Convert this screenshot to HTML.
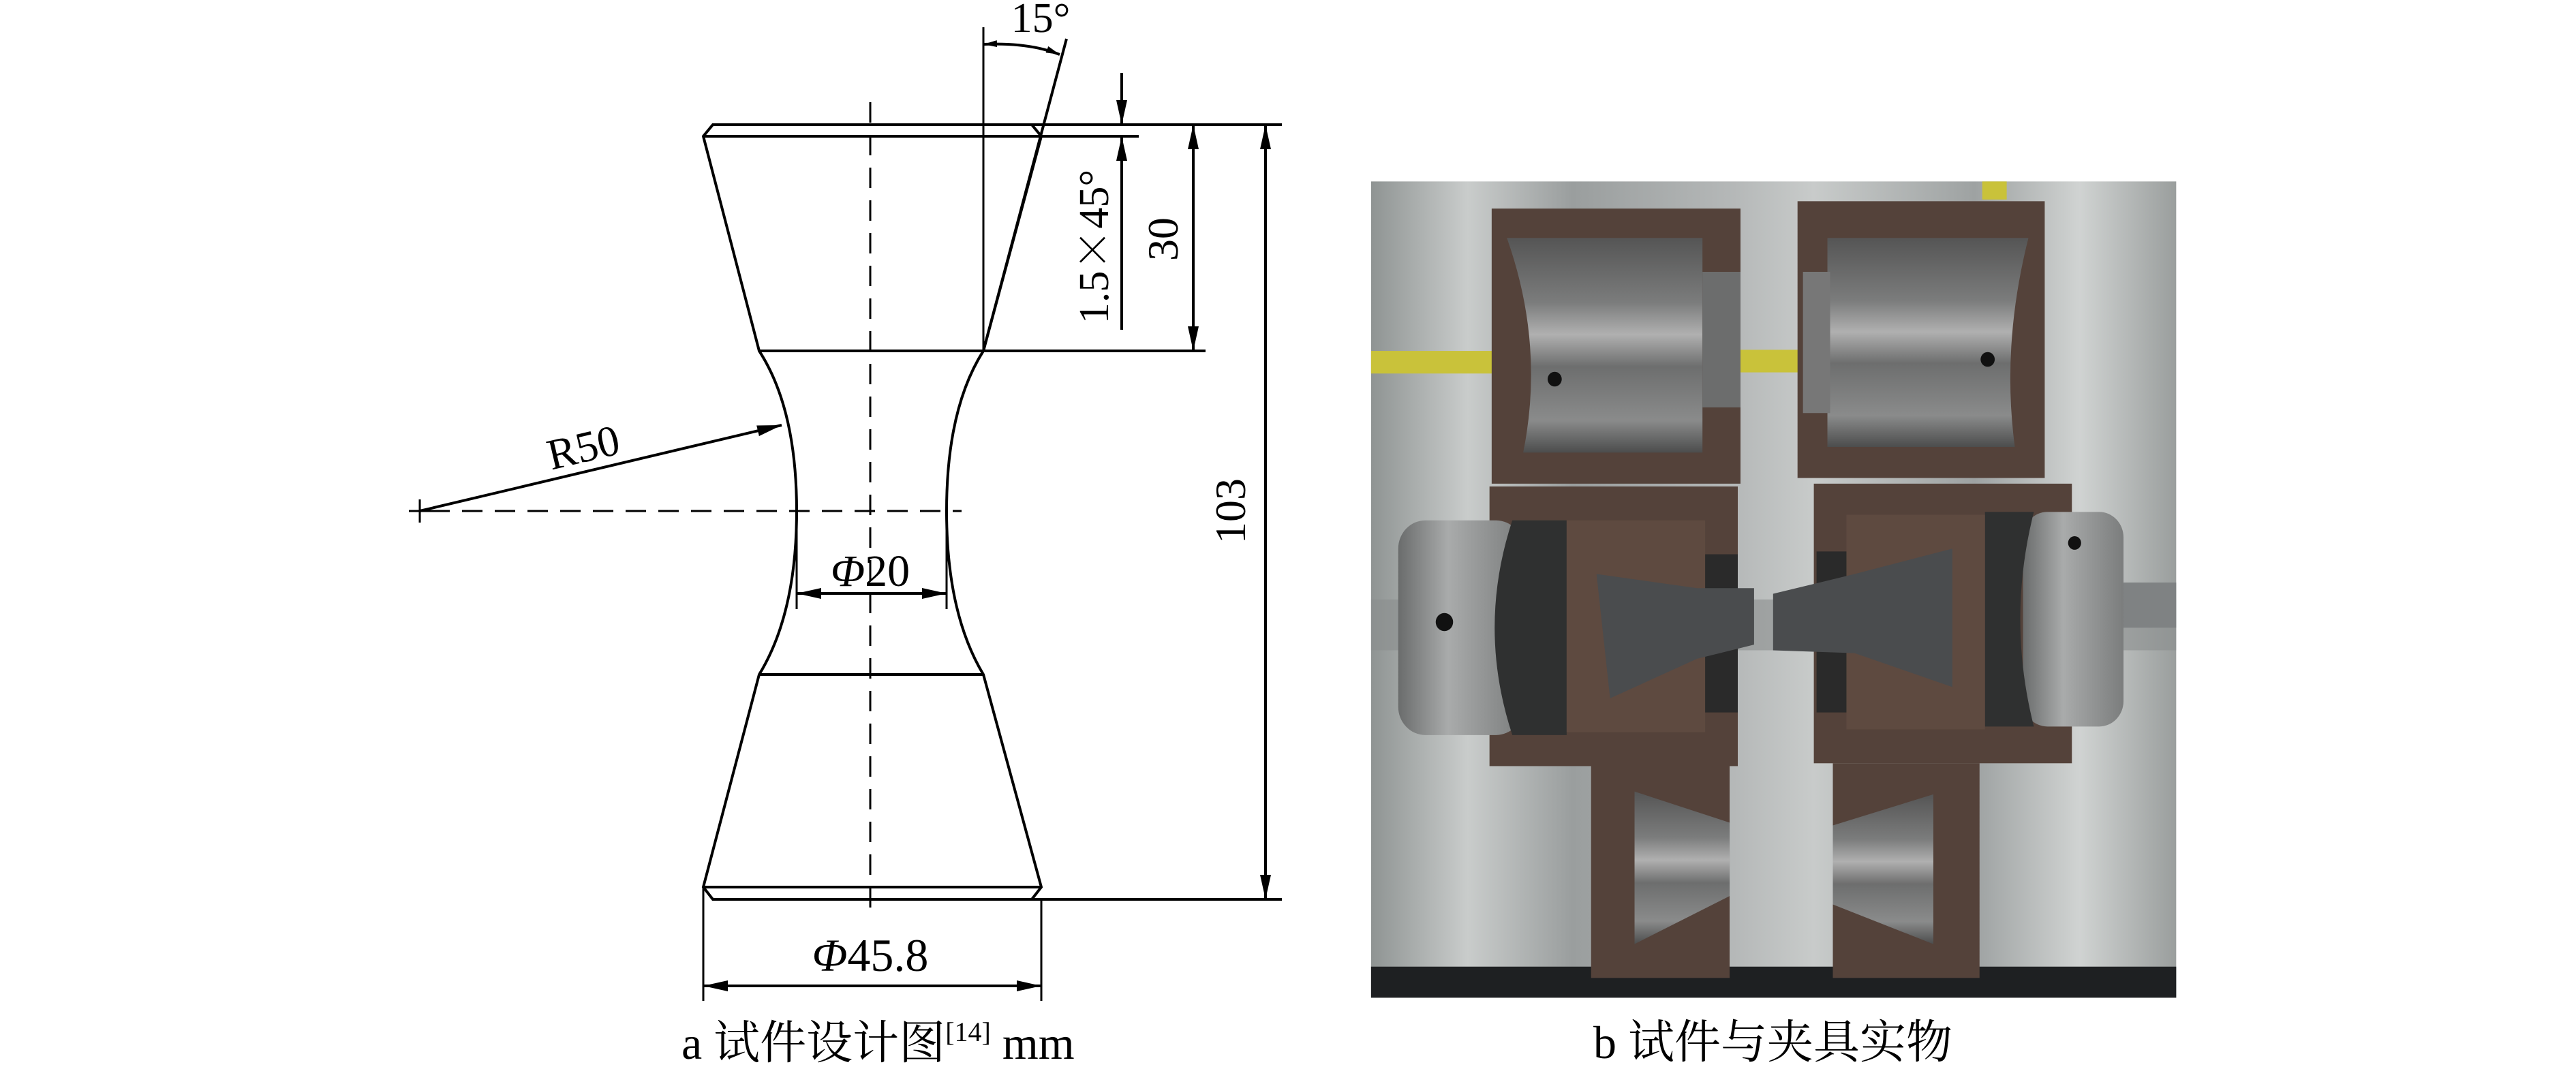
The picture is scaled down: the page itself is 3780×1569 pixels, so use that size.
<!DOCTYPE html>
<html><head><meta charset="utf-8"><style>
html,body{margin:0;padding:0;background:#fff;}
body{width:3780px;height:1569px;position:relative;overflow:hidden;}
svg{position:absolute;}
text{font-family:"Liberation Serif","Noto Serif CJK SC",serif;fill:#000;}
</style></head><body>
<svg style="left:0;top:0" width="3780" height="1569" viewBox="0 0 3780 1569">
<defs>
<marker id="ah" viewBox="0 0 20 10" refX="20" refY="5" markerWidth="20" markerHeight="10" markerUnits="userSpaceOnUse" orient="auto-start-reverse"><path d="M0,0 L20,5 L0,10 z" fill="#000"/></marker>
<marker id="ahv" viewBox="0 0 36 16" refX="36" refY="8" markerWidth="36" markerHeight="16" markerUnits="userSpaceOnUse" orient="auto-start-reverse"><path d="M0,0 L36,8 L0,16 z" fill="#000"/></marker>
</defs>
<g stroke="#000" stroke-width="4" fill="none">
<path d="M1046,183 L1514,183 L1528,200 L1443,515 Q1389,600 1389,750 Q1389,900 1443,990 L1528,1302 L1514,1320 L1046,1320 L1032,1302 L1114,990 Q1169,900 1169,750 Q1169,600 1114,515 L1032,200 Z"/>
<line x1="1032" y1="200" x2="1671" y2="200"/>
<line x1="1514" y1="183" x2="1881" y2="183"/>
<line x1="1114" y1="515" x2="1769" y2="515"/>
<line x1="1114" y1="990" x2="1443" y2="990"/>
<line x1="1032" y1="1302" x2="1528" y2="1302"/>
<line x1="1514" y1="1320" x2="1881" y2="1320"/>
<line x1="1277" y1="150" x2="1277" y2="1335" stroke-width="3" stroke-dasharray="30,18"/>
<line x1="630" y1="750" x2="1411" y2="750" stroke-width="3" stroke-dasharray="30,18"/>
<line x1="600" y1="750" x2="632" y2="750" stroke-width="3"/>
<line x1="616" y1="733" x2="616" y2="767" stroke-width="3"/>
<line x1="616" y1="750" x2="1147" y2="624" stroke-width="4" marker-end="url(#ahv)"/>
<line x1="1443" y1="40" x2="1443" y2="515" stroke-width="3"/>
<line x1="1565" y1="57" x2="1443" y2="515" stroke-width="4"/>
<path d="M1443,65 Q1510,62 1555,80" stroke-width="4" marker-start="url(#ah)" marker-end="url(#ah)"/>
<line x1="1646" y1="107" x2="1646" y2="183" stroke-width="4" marker-end="url(#ahv)"/>
<line x1="1646" y1="484" x2="1646" y2="200" stroke-width="4" marker-end="url(#ahv)"/>
<line x1="1751" y1="183" x2="1751" y2="515" stroke-width="4" marker-start="url(#ahv)" marker-end="url(#ahv)"/>
<line x1="1857" y1="183" x2="1857" y2="1320" stroke-width="4" marker-start="url(#ahv)" marker-end="url(#ahv)"/>
<line x1="1169" y1="750" x2="1169" y2="894" stroke-width="3"/>
<line x1="1389" y1="750" x2="1389" y2="894" stroke-width="3"/>
<line x1="1169" y1="871" x2="1389" y2="871" stroke-width="4" marker-start="url(#ahv)" marker-end="url(#ahv)"/>
<line x1="1032" y1="1302" x2="1032" y2="1469" stroke-width="3"/>
<line x1="1528" y1="1320" x2="1528" y2="1469" stroke-width="3"/>
<line x1="1032" y1="1447" x2="1528" y2="1447" stroke-width="4" marker-start="url(#ahv)" marker-end="url(#ahv)"/>
</g>
<text x="856" y="678" font-size="64" text-anchor="middle" transform="rotate(-13.3 856 657)">R50</text>
<text x="1277" y="860" font-size="66" text-anchor="middle"><tspan font-style="italic">Φ</tspan>20</text>
<text x="1277" y="1425" font-size="68" text-anchor="middle"><tspan font-style="italic">Φ</tspan>45.8</text>
<text x="1527" y="47" font-size="62" text-anchor="middle">15°</text>
<text x="1604" y="362" font-size="62" text-anchor="middle" transform="rotate(-90 1604 362)" dy="22">1.5<tspan font-family="Noto Serif CJK SC">×</tspan>45°</text>
<text x="1706" y="351" font-size="64" text-anchor="middle" transform="rotate(-90 1706 351)" dy="22">30</text>
<text x="1805" y="750" font-size="64" text-anchor="middle" transform="rotate(-90 1805 750)" dy="22">103</text>
<text x="1000" y="1554" font-size="68">a  试件设计图<tspan font-size="40" dy="-26">[14]</tspan><tspan dy="26">  mm</tspan></text>
<text x="2338" y="1553" font-size="68">b  试件与夹具实物</text>
</svg>

<svg style="left:1980px;top:200px" width="1250" height="1300" viewBox="0 0 1568 1568" preserveAspectRatio="none">
<defs>
<linearGradient id="bg" x1="0" x2="1" y1="0" y2="0">
<stop offset="0" stop-color="#8f9493"/><stop offset="0.12" stop-color="#c9cccb"/><stop offset="0.25" stop-color="#9a9e9e"/><stop offset="0.45" stop-color="#b5b8b8"/><stop offset="0.55" stop-color="#c8cbca"/><stop offset="0.75" stop-color="#9ea2a2"/><stop offset="0.88" stop-color="#d0d3d2"/><stop offset="1" stop-color="#9a9e9d"/>
</linearGradient>
<linearGradient id="steel" x1="0" x2="0" y1="0" y2="1">
<stop offset="0" stop-color="#555"/><stop offset="0.3" stop-color="#7b7c7c"/><stop offset="0.45" stop-color="#b0b0b0"/><stop offset="0.6" stop-color="#6d6e6e"/><stop offset="0.85" stop-color="#8a8b8b"/><stop offset="1" stop-color="#4c4d4d"/>
</linearGradient>
<linearGradient id="cyl" x1="0" x2="1" y1="0" y2="0">
<stop offset="0" stop-color="#6a6c6c"/><stop offset="0.4" stop-color="#a9abab"/><stop offset="1" stop-color="#7b7d7d"/>
</linearGradient>
</defs>
<rect x="40" y="80" width="1482" height="1445" fill="url(#bg)"/>
<rect x="40" y="1470" width="1482" height="55" fill="#1e2022"/>
<rect x="40" y="380" width="290" height="40" fill="#c9c23a"/>
<rect x="715" y="378" width="115" height="40" fill="#c9c23a"/>
<rect x="1165" y="80" width="45" height="32" fill="#c9c23a"/>
<rect x="40" y="820" width="1482" height="90" fill="#8a8d8e" opacity="0.6"/>
<rect x="262" y="128" width="458" height="487" fill="#54423a"/>
<path d="M290,180 L650,180 L650,560 L320,560 Q360,370 290,180 Z" fill="url(#steel)"/>
<rect x="650" y="240" width="70" height="240" fill="#6c6d6d"/>
<rect x="825" y="115" width="455" height="490" fill="#54423a"/>
<path d="M880,180 L1250,180 Q1200,370 1225,550 L880,550 Z" fill="url(#steel)"/>
<rect x="835" y="240" width="50" height="250" fill="#777"/>
<rect x="258" y="620" width="457" height="495" fill="#54423a"/>
<rect x="90" y="680" width="230" height="380" rx="50" fill="url(#cyl)"/>
<path d="M300,680 Q235,870 300,1060 L400,1060 L400,680 Z" fill="#2f3030"/>
<rect x="400" y="680" width="255" height="375" fill="#5e4a40"/>
<rect x="655" y="740" width="60" height="280" fill="#2a2a2a"/>
<polygon points="455,775 640,800 745,800 745,900 640,925 480,995" fill="#4a4c4e"/>
<circle cx="175" cy="860" r="16" fill="#111"/>
<rect x="855" y="615" width="475" height="495" fill="#54423a"/>
<rect x="1240" y="665" width="185" height="380" rx="45" fill="url(#cyl)"/>
<path d="M1170,665 L1260,665 Q1210,855 1260,1045 L1170,1045 Z" fill="#2f3030"/>
<rect x="915" y="670" width="255" height="380" fill="#5e4a40"/>
<rect x="860" y="735" width="55" height="285" fill="#2a2a2a"/>
<polygon points="1110,730 930,775 780,810 780,910 930,915 1110,975" fill="#4a4c4e"/>
<rect x="1425" y="790" width="97" height="80" fill="#7f8283"/>
<circle cx="1335" cy="720" r="12" fill="#111"/>
<rect x="445" y="1110" width="255" height="380" fill="#54423a"/>
<polygon points="525,1160 700,1215 700,1345 525,1430" fill="url(#steel)"/>
<rect x="890" y="1110" width="270" height="380" fill="#54423a"/>
<polygon points="1075,1165 890,1220 890,1360 1075,1430" fill="url(#steel)"/>
<circle cx="378" cy="430" r="13" fill="#111"/>
<circle cx="1175" cy="395" r="13" fill="#111"/>
</svg>
</body></html>
